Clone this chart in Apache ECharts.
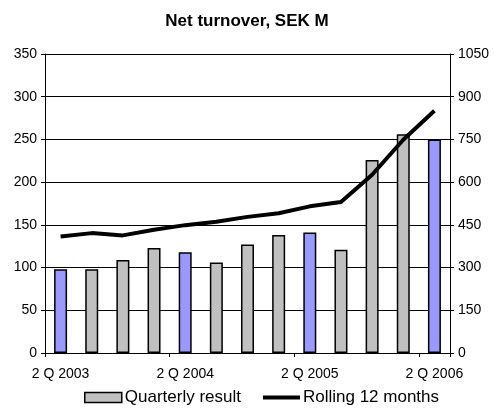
<!DOCTYPE html>
<html>
<head>
<meta charset="utf-8">
<script src="https://cdn.jsdelivr.net/npm/echarts@6/dist/echarts.min.js"></script>
<style>
  html, body { margin: 0; padding: 0; background: #fff; }
  #chart { width: 494px; height: 409px; }
</style>
</head>
<body>
<div id="chart"></div>
<script>
// quarters, 2 Q 2003 .. 2 Q 2006
const quarters = ['2 Q 2003', '3 Q 2003', '4 Q 2003', '1 Q 2004', '2 Q 2004', '3 Q 2004', '4 Q 2004',
  '1 Q 2005', '2 Q 2005', '3 Q 2005', '4 Q 2005', '1 Q 2006', '2 Q 2006']
const quarterly = [98, 98, 109, 123, 118, 106, 127, 138, 141, 121, 226, 256, 250]
const rolling12 = [409, 421, 413, 433, 449, 461, 478, 491, 515, 530, 626, 749, 851]
const leftTicks = [0, 350, 50]
const rightTicks = [0, 1050, 150]

const grayColor = '#C0C0C0'
const blueColor = '#9999FF'
const font = 'Arial, "Liberation Sans", sans-serif'

const chart = echarts.init(document.getElementById('chart'))

chart.setOption({
  animation: false,
  title: {
    text: 'Net turnover, SEK M',
    left: 'center',
    top: 8,
    textStyle: {fontFamily: font, fontSize: 17, fontWeight: 'bold', color: '#000'}
  },
  legend: {
    bottom: -2,
    left: 79,
    itemGap: 22,
    itemWidth: 37,
    itemHeight: 10,
    textStyle: {fontFamily: font, fontSize: 17, color: '#000', padding: [0, 0, 0, -2]},
    data: [
      {name: 'Quarterly result', icon: 'rect', itemStyle: {color: grayColor, borderColor: '#000', borderWidth: 1.5}},
      {name: 'Rolling 12 months', icon: 'path://M0,0H37V4H0Z', itemStyle: {color: '#000'}}
    ]
  },
  grid: {left: 45, right: 44, top: 54, bottom: 56},
  xAxis: {
    type: 'category',
    data: quarters,
    boundaryGap: true,
    axisLine: {lineStyle: {color: '#000'}},
    axisTick: {show: true, length: 4, lineStyle: {color: '#000'}},
    axisLabel: {
      interval: 3,
      fontFamily: font,
      fontSize: 14,
      color: '#000',
      margin: 14
    }
  },
  yAxis: [
    {
      type: 'value',
      min: leftTicks[0],
      max: leftTicks[1],
      interval: leftTicks[2],
      axisLine: {show: true, lineStyle: {color: '#000'}},
      axisTick: {show: true, length: 4, lineStyle: {color: '#000'}},
      splitLine: {lineStyle: {color: '#000'}},
      axisLabel: {fontFamily: font, fontSize: 14, color: '#000', margin: 8}
    },
    {
      type: 'value',
      min: rightTicks[0],
      max: rightTicks[1],
      interval: rightTicks[2],
      axisLine: {show: true, lineStyle: {color: '#000'}},
      axisTick: {show: true, length: 4, lineStyle: {color: '#000'}},
      splitLine: {show: false},
      axisLabel: {fontFamily: font, fontSize: 14, color: '#000', margin: 8, formatter: v => String(v)}
    }
  ],
  series: [
    {
      name: 'Quarterly result',
      type: 'bar',
      barWidth: 13,
      itemStyle: {color: grayColor, borderColor: '#000', borderWidth: 1.5},
      data: quarterly.map((v, i) => i % 4 === 0
        ? {value: v, itemStyle: {color: blueColor, borderColor: '#000', borderWidth: 1.5}}
        : v)
    },
    {
      name: 'Rolling 12 months',
      type: 'line',
      yAxisIndex: 1,
      symbol: 'none',
      z: 5,
      lineStyle: {color: '#000', width: 4},
      itemStyle: {color: '#000'},
      data: rolling12
    }
  ]
})
</script>
</body>
</html>
